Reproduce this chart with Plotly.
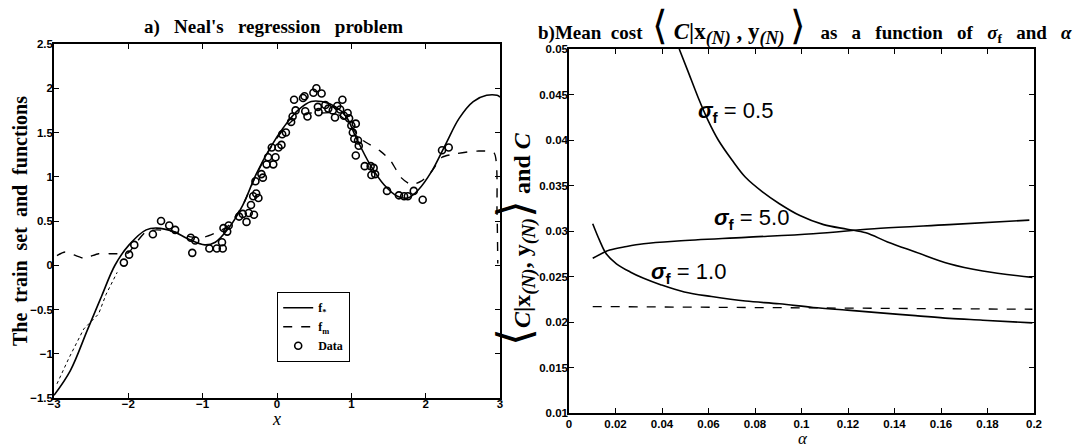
import plotly.graph_objects as go

# ---------------- Panel a data ----------------
fstar_x = [-3.0, -2.78, -2.55, -2.36, -2.18, -1.99, -1.76, -1.62, -1.39, -1.2, -0.97, -0.83, -0.65,
           -0.46, -0.28, -0.09, 0.09, 0.28, 0.46, 0.6, 0.79, 0.93, 1.06, 1.25, 1.44, 1.62, 1.76,
           1.9, 2.08, 2.27, 2.45, 2.64, 2.82, 2.96, 3.0]
fstar_y = [-1.47, -1.19, -0.73, -0.35, 0.0, 0.23, 0.40, 0.42, 0.38, 0.30, 0.23, 0.26, 0.42,
           0.68, 1.03, 1.33, 1.56, 1.75, 1.85, 1.85, 1.79, 1.68, 1.45, 1.14, 0.91, 0.78, 0.76,
           0.85, 1.06, 1.37, 1.66, 1.85, 1.92, 1.92, 1.90]

fm_x = [-2.96, -2.85, -2.6, -2.4, -2.18, -2.0, -1.9, -1.76, -1.62, -1.39, -1.16, -0.97, -0.79,
        -0.65, -0.46, -0.28, -0.09, 0.09, 0.28, 0.45, 0.6, 0.79, 0.95, 1.06, 1.16, 1.39, 1.53,
        1.67, 1.81, 1.94, 2.08, 2.22, 2.41, 2.69, 2.92, 2.96, 2.97]
fm_y = [0.11, 0.15, 0.08, 0.13, 0.13, 0.14, 0.25, 0.38, 0.40, 0.38, 0.32, 0.32, 0.38,
        0.45, 0.68, 1.02, 1.32, 1.54, 1.68, 1.72, 1.72, 1.72, 1.62, 1.50, 1.41, 1.29, 1.18,
        0.99, 0.91, 0.95, 1.06, 1.22, 1.26, 1.29, 1.27, 0.6, 0.02]

dot_x = [-2.96, -2.8, -2.6, -2.4, -2.3, -2.15]
dot_y = [-1.34, -1.05, -0.72, -0.55, -0.33, -0.08]

data_x = [-2.06, -1.99, -1.92, -1.67, -1.56, -1.45, -1.37, -1.16, -1.14, -1.1, -0.91, -0.81,
          -0.73, -0.74, -0.72, -0.67, -0.65, -0.51, -0.46, -0.41, -0.38, -0.31, -0.35, -0.32,
          -0.25, -0.28, -0.29, -0.21, -0.19, -0.14, -0.12, -0.05, -0.07, -0.02, 0.02, 0.06,
          0.07, 0.12, 0.19, 0.21, 0.25, 0.23, 0.35, 0.37, 0.41, 0.38, 0.49, 0.53, 0.6, 0.55,
          0.56, 0.65, 0.69, 0.75, 0.81, 0.85, 0.88, 0.78, 0.9, 0.95, 0.97, 1.0, 1.06, 1.02,
          1.04, 1.09, 1.1, 1.06, 1.18, 1.26, 1.3, 1.27, 1.32, 1.48, 1.64, 1.71, 1.76, 1.84,
          1.96, 2.22, 2.31]
data_y = [0.03, 0.12, 0.23, 0.35, 0.50, 0.45, 0.40, 0.31, 0.14, 0.28, 0.19, 0.19,
          0.19, 0.26, 0.42, 0.38, 0.45, 0.55, 0.58, 0.49, 0.59, 0.57, 0.68, 0.78,
          0.76, 0.81, 0.95, 1.03, 0.99, 1.14, 1.22, 1.14, 1.33, 1.22, 1.33, 1.36,
          1.48, 1.50, 1.62, 1.68, 1.75, 1.87, 1.89, 1.91, 1.68, 1.74, 1.95, 2.00, 1.94, 1.79,
          1.73, 1.81, 1.77, 1.75, 1.80, 1.76, 1.87, 1.67, 1.69, 1.72, 1.66, 1.58, 1.60, 1.50,
          1.43, 1.41, 1.35, 1.24, 1.12, 1.12, 1.10, 1.02, 1.03, 0.84, 0.79, 0.78, 0.78, 0.84,
          0.74, 1.30, 1.33]

a_xticks = [-3, -2, -1, 0, 1, 2, 3]
a_xlabels = ["\u22123", "\u22122", "\u22121", "0", "1", "2", "3"]
a_yticks = [-1.5, -1, -0.5, 0, 0.5, 1, 1.5, 2, 2.5]
a_ylabels = ["\u22121.5", "\u22121", "\u22120.5", "0", "0.5", "1", "1.5", "2", "2.5"]

# ---------------- Panel b data ----------------
s05_a = [0.0474, 0.0511, 0.0555, 0.0599, 0.0642, 0.0701, 0.0759, 0.0832, 0.0905, 0.0993,
         0.1095, 0.1197, 0.1277, 0.137, 0.149, 0.1635, 0.178, 0.1993]
s05_c = [0.0500, 0.0476, 0.0447, 0.0421, 0.0400, 0.0378, 0.0359, 0.0343, 0.0330, 0.0317,
         0.0307, 0.0302, 0.0298, 0.0288, 0.0277, 0.0264, 0.0256, 0.0249]

s50_a = [0.0102, 0.0175, 0.0248, 0.0321, 0.0467, 0.0759, 0.105, 0.134, 0.1635, 0.198]
s50_c = [0.0270, 0.0279, 0.0283, 0.0286, 0.0289, 0.0293, 0.0297, 0.0303, 0.0307, 0.0312]

s10_a = [0.0102, 0.0131, 0.016, 0.0204, 0.0263, 0.0321, 0.0394, 0.0496, 0.0613, 0.0759,
         0.0905, 0.105, 0.1197, 0.134, 0.149, 0.1635, 0.178, 0.1993]
s10_c = [0.0308, 0.0290, 0.0275, 0.0264, 0.0255, 0.0248, 0.0241, 0.0233, 0.0228, 0.0223,
         0.0220, 0.0216, 0.0213, 0.0210, 0.0207, 0.0204, 0.0202, 0.0199]

base_a = [0.0102, 0.1993]
base_c = [0.0217, 0.0214]

b_xticks = [0, 0.02, 0.04, 0.06, 0.08, 0.1, 0.12, 0.14, 0.16, 0.18, 0.2]
b_xlabels = ["0", "0.02", "0.04", "0.06", "0.08", "0.1", "0.12", "0.14", "0.16", "0.18", "0.2"]
b_yticks = [0.01, 0.015, 0.02, 0.025, 0.03, 0.035, 0.04, 0.045, 0.05]
b_ylabels = ["0.01", "0.015", "0.02", "0.025", "0.03", "0.035", "0.04", "0.045", "0.05"]

curve_labels = ["0.5", "5.0", "1.0"]
curve_label_a = [0.0715, 0.0784, 0.0514]
curve_label_c = [0.0431, 0.0313, 0.0254]

W, H = 1075, 447
SERIF = "Liberation Serif, Times New Roman, serif"
SANS = "Liberation Sans, Arial, sans-serif"

fig = go.Figure()

fig.add_trace(go.Scatter(x=dot_x, y=dot_y, mode="lines", line=dict(color="black", width=1, dash="dot"),
                         showlegend=False, xaxis="x", yaxis="y", hoverinfo="skip"))
fig.add_trace(go.Scatter(x=fstar_x, y=fstar_y, mode="lines", line=dict(color="black", width=1.6, shape="spline"),
                         name="f<sub>*</sub>", xaxis="x", yaxis="y"))
fig.add_trace(go.Scatter(x=fm_x, y=fm_y, mode="lines", line=dict(color="black", width=1.4, dash="dash", shape="spline", smoothing=0.6),
                         name="f<sub>m</sub>", xaxis="x", yaxis="y"))
fig.add_trace(go.Scatter(x=data_x, y=data_y, mode="markers",
                         marker=dict(symbol="circle-open", size=7, color="black", line=dict(width=1.6)),
                         name="Data", xaxis="x", yaxis="y"))

for a, c in [(s05_a, s05_c), (s50_a, s50_c), (s10_a, s10_c)]:
    fig.add_trace(go.Scatter(x=a, y=c, mode="lines", line=dict(color="black", width=1.6, shape="spline"),
                             showlegend=False, xaxis="x2", yaxis="y2"))
fig.add_trace(go.Scatter(x=base_a, y=base_c, mode="lines", line=dict(color="black", width=1.3, dash="dash"),
                         showlegend=False, xaxis="x2", yaxis="y2"))

axis_common = dict(showgrid=False, zeroline=False, showline=True, linecolor="black", linewidth=1.5,
                   mirror="ticks", ticks="inside", ticklen=5, tickcolor="black", tickwidth=1,
                   automargin=False,
                   tickfont=dict(family=SANS, size=11.5, color="black", weight="bold"))

fig.update_layout(
    template="none",
    width=W, height=H,
    margin=dict(l=0, r=0, t=0, b=0, pad=0),
    paper_bgcolor="white", plot_bgcolor="white",
    xaxis=dict(domain=[54 / W, 500 / W], range=[-3, 3], tickvals=a_xticks, ticktext=a_xlabels,
               anchor="y", ticklabelstandoff=-6, **axis_common),
    yaxis=dict(domain=[1 - 398 / H, 1 - 44 / H], range=[-1.5, 2.5], tickvals=a_yticks, ticktext=a_ylabels,
               anchor="x", ticklabelstandoff=-3, **axis_common),
    xaxis2=dict(domain=[569 / W, 1034 / W], range=[0, 0.2], tickvals=b_xticks, ticktext=b_xlabels,
                anchor="y2", ticklabelstandoff=-1, **axis_common),
    yaxis2=dict(domain=[1 - 413 / H, 1 - 49 / H], range=[0.01, 0.05], tickvals=b_yticks, ticktext=b_ylabels,
                anchor="x2", ticklabelstandoff=-3, **axis_common),
    legend=dict(x=277 / W, y=1 - 292 / H, xanchor="left", yanchor="top", bgcolor="white",
                bordercolor="black", borderwidth=1.2, itemwidth=30,
                font=dict(family=SERIF, size=12, color="black", weight="bold"),
                tracegroupgap=2),
    showlegend=True,
)

BIG = "<span style='font-size:{}px;font-weight:normal'>{}</span>"
SUB = "<sub><span style='font-size:{}px'><i>(N)</i></span></sub>"

ann = []
ann.append(dict(text="a)   Neal's   regression   problem", x=273 / W, y=1 - 27 / H, xref="paper", yref="paper",
                showarrow=False, xanchor="center", yanchor="middle",
                font=dict(family=SERIF, size=19, color="black", weight="bold")))
ann.append(dict(text="b)Mean  cost  " + BIG.format(40, "\u27E8")
                + "<span style='font-size:23px'> <i>C</i>|<b>x</b>" + SUB.format(18) + " , <b>y</b>" + SUB.format(18) + " </span>"
                + BIG.format(40, "\u27E9")
                + "   as   a   function   of   <b><i>\u03C3</i><sub>f</sub></b>   and   <i>\u03B1</i>",
                x=536 / W, y=1 - 26 / H, xref="paper", yref="paper", showarrow=False,
                xanchor="left", yanchor="middle",
                font=dict(family=SERIF, size=19, color="black", weight="bold")))
ann.append(dict(text="The  train  set  and  functions", x=20 / W, y=1 - 221 / H, xref="paper", yref="paper",
                showarrow=False, textangle=-90, xanchor="center", yanchor="middle",
                font=dict(family=SERIF, size=20, color="black", weight="bold")))
ann.append(dict(text=BIG.format(46, "\u27E8") + "<i>C</i>|<b>x</b>" + SUB.format(19) + ", <b>y</b>" + SUB.format(19)
                + BIG.format(46, "\u27E9") + " and <i>C</i>",
                x=514 / W, y=1 - 239 / H, xref="paper", yref="paper",
                showarrow=False, textangle=-90, xanchor="center", yanchor="middle",
                font=dict(family=SERIF, size=24, color="black", weight="bold")))
ann.append(dict(text="<i>x</i>", x=276 / W, y=1 - 419 / H, xref="paper", yref="paper", showarrow=False,
                xanchor="center", yanchor="middle", font=dict(family=SERIF, size=18, color="black")))
ann.append(dict(text="<i>\u03B1</i>", x=803 / W, y=1 - 438 / H, xref="paper", yref="paper", showarrow=False,
                xanchor="center", yanchor="middle", font=dict(family=SERIF, size=17, color="black")))
for lab, a, c in zip(curve_labels, curve_label_a, curve_label_c):
    ann.append(dict(text="<b><i>\u03C3</i><sub>f</sub></b> = " + lab, x=a, y=c, xref="x2", yref="y2",
                    showarrow=False, xanchor="center", yanchor="middle",
                    font=dict(family=SANS, size=22, color="black")))
fig.update_layout(annotations=ann)

fig.write_html("out.html", config={"displayModeBar": False},
               post_script="document.body.style.margin='0px';document.body.style.overflow='hidden';")
